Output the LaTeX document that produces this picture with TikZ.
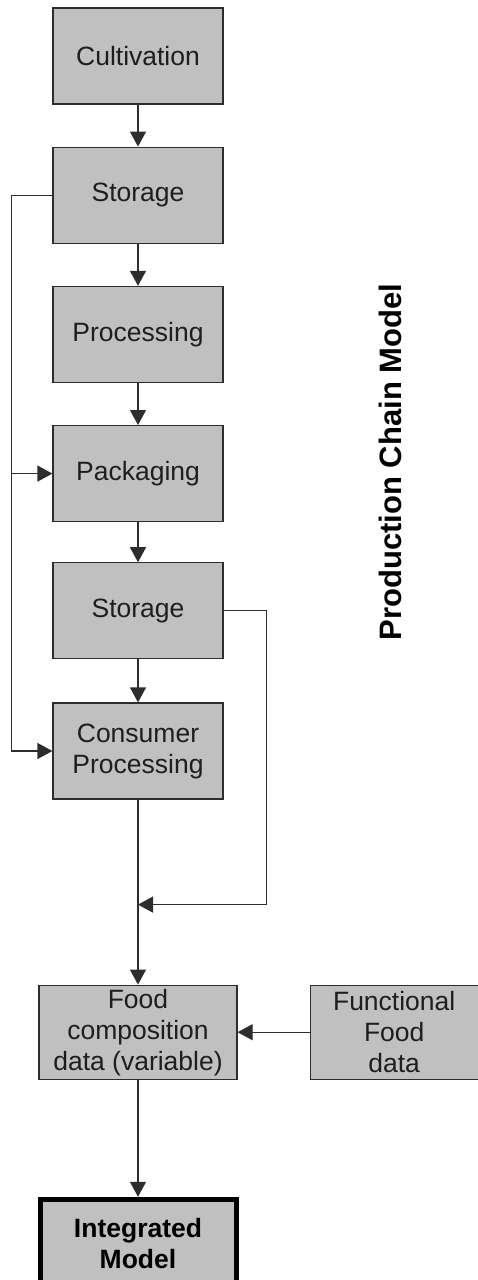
\documentclass[tikz,border=0pt]{standalone}
\usepackage{fontspec}
\setmainfont{Liberation Sans}
\usetikzlibrary{arrows.meta,positioning}
\definecolor{boxgray}{RGB}{192,192,192}
\definecolor{linegray}{RGB}{45,45,45}
\definecolor{textgray}{RGB}{30,30,30}
\tikzset{
  stage/.style={
    draw=linegray,
    line width=1.2pt,
    fill=boxgray,
    align=center,
    inner sep=0pt,
    minimum width=170pt,
    minimum height=96pt,
    text=textgray,
    font=\fontsize{26.5}{31}\selectfont
  },
  databox/.style={stage, minimum height=94pt},
  modelbox/.style={stage, line width=5pt, draw=black, text=black,
    font=\fontsize{26.5}{31}\selectfont\bfseries},
  arrow/.style={-{Triangle[length=15pt,width=16pt]}, line width=1.2pt, draw=linegray}
}
\begin{document}
\begin{tikzpicture}[x=1pt,y=1pt,node distance=42pt]
    \useasboundingbox (0,0) rectangle (478,-1280);
    \node[stage] (cult) at (138,-56) {Cultivation};
    \node[stage, below=of cult] (stor1) {Storage};
    \node[stage, below=of stor1] (proc) {Processing};
    \node[stage, below=of proc] (pack) {Packaging};
    \node[stage, below=40pt of pack] (stor2) {Storage};
    \node[stage, below=43pt of stor2] (cons) {Consumer\\Processing};
    \node[databox, minimum width=198pt, below=185pt of cons] (food) {Food\\composition\\data (variable)};
    \node[databox, minimum width=168pt, right=72pt of food] (func) {Functional\\Food\\data};
    \node[modelbox, minimum width=196pt, minimum height=88pt, below=117pt of food] (integ) {Integrated\\Model};
    \node[rotate=90, text=black, font=\fontsize{31}{36}\selectfont\bfseries] (title) at (390,-462) {Production Chain Model};
    % main chain
    \draw[arrow] (cult) -- (stor1);
    \draw[arrow] (stor1) -- (proc);
    \draw[arrow] (proc) -- (pack);
    \draw[arrow] (pack) -- (stor2);
    \draw[arrow] (stor2) -- (cons);
    % bypass on the left
    \coordinate (lft) at ([xshift=-41pt]stor1.west);
    \draw[arrow] (stor1.west) -- (lft) |- (cons.west);
    \draw[arrow] (lft |- pack.west) -- (pack.west);
    % bypass on the right
    \coordinate (rgt) at ([xshift=43pt]stor2.east);
    \coordinate (join) at ([yshift=-105pt]cons.south);
    \draw[arrow] (stor2.east) -- (rgt) |- (join);
    \draw[arrow] (cons) -- (food);
    \draw[arrow] (func) -- (food);
    \draw[arrow] (food) -- (integ);
  \end{tikzpicture}
\end{document}
